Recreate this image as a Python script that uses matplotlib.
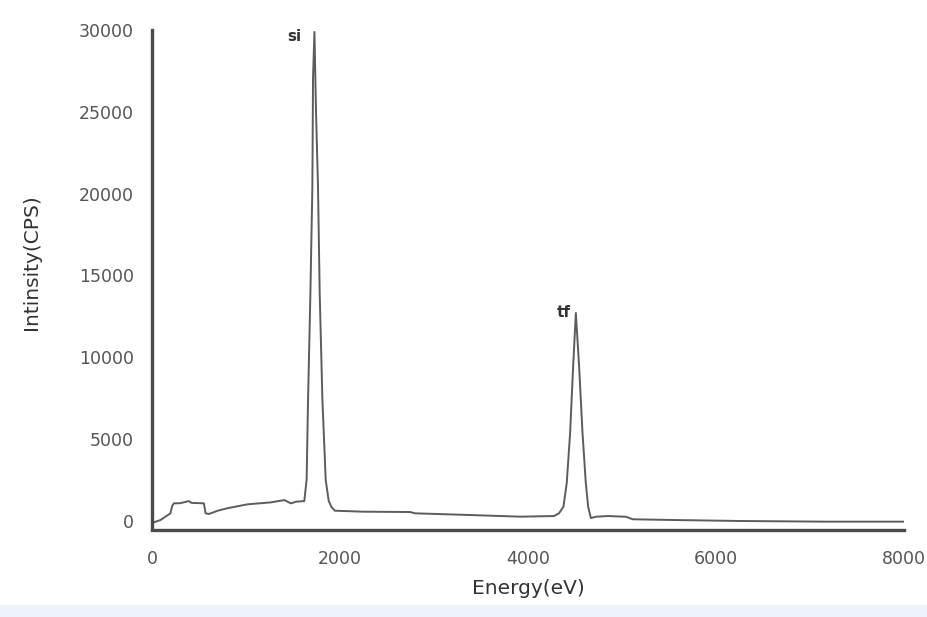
import matplotlib
matplotlib.use("Agg")
import matplotlib.pyplot as plt
from matplotlib.patches import Rectangle

# Spectrum
energy = [0, 90, 196, 215, 232, 300, 392, 420, 552, 570, 605, 700, 801, 1015, 1264, 1407,
          1478, 1531, 1620, 1645, 1660, 1685, 1706, 1713, 1728, 1745, 1766, 1784, 1813, 1848,
          1880, 1909, 1944, 2247, 2746, 2800, 3387, 3921, 4277, 4330, 4377, 4412, 4448, 4480,
          4509, 4544, 4580, 4615, 4640, 4669, 4722, 4847, 5043, 5114, 5559, 6271, 7161, 8000]
counts = [-150, 30, 440, 900, 1050, 1060, 1190, 1080, 1050, 440, 400, 600, 750, 990, 1110, 1250,
          1050, 1150, 1190, 2500, 7370, 13900, 20400, 27100, 29900, 25000, 20400, 13900, 7370, 2480,
          1200, 830, 600, 540, 520, 440, 335, 235, 275, 440, 845, 2290, 5350, 9410,
          12700, 9410, 5350, 2290, 845, 150, 230, 275, 230, 75, 30, -30, -70, -70]

peak_labels = ["si", "tf"]
peak_label_x = [1510, 4383]
peak_label_y = [29600, 12700]

x_ticks = [0, 2000, 4000, 6000, 8000]
y_ticks = [0, 5000, 10000, 15000, 20000, 25000, 30000]

fig = plt.figure(figsize=(9.27, 6.17), dpi=100)
fig.patch.set_facecolor("white")
fig.add_artist(Rectangle((0, 0), 1, 12 / 617, transform=fig.transFigure,
                         facecolor="#eef3fb", edgecolor="none", zorder=0))

ax = fig.add_axes([152 / 927, 1 - 529.5 / 617, (904 - 152) / 927, (529.5 - 30.3) / 617])
ax.plot(energy, counts, color="#5c5c5c", lw=1.4)

ax.set_xlim(0, 8000)
ax.set_ylim(-550, 30000)
ax.set_xticks(x_ticks)
ax.set_yticks(y_ticks)
ax.tick_params(axis="both", length=0, labelsize=12.5, labelcolor="#555555")
ax.tick_params(axis="x", pad=15)
ax.tick_params(axis="y", pad=13)

for s in ["top", "right"]:
    ax.spines[s].set_visible(False)
for s in ["left", "bottom"]:
    ax.spines[s].set_color("#4a4a4a")
    ax.spines[s].set_linewidth(2.4)

ax.set_xlabel("Energy(eV)", fontsize=14.5, color="#333333", labelpad=8)
ax.set_ylabel("Intinsity(CPS)", fontsize=14.5, color="#333333")
ax.yaxis.set_label_coords(-0.147, 0.535)

for t, xv, yv in zip(peak_labels, peak_label_x, peak_label_y):
    ax.text(xv, yv, t, ha="center", va="center", fontsize=11, fontweight="bold", color="#333333")

fig.savefig("out.png", dpi=100)
